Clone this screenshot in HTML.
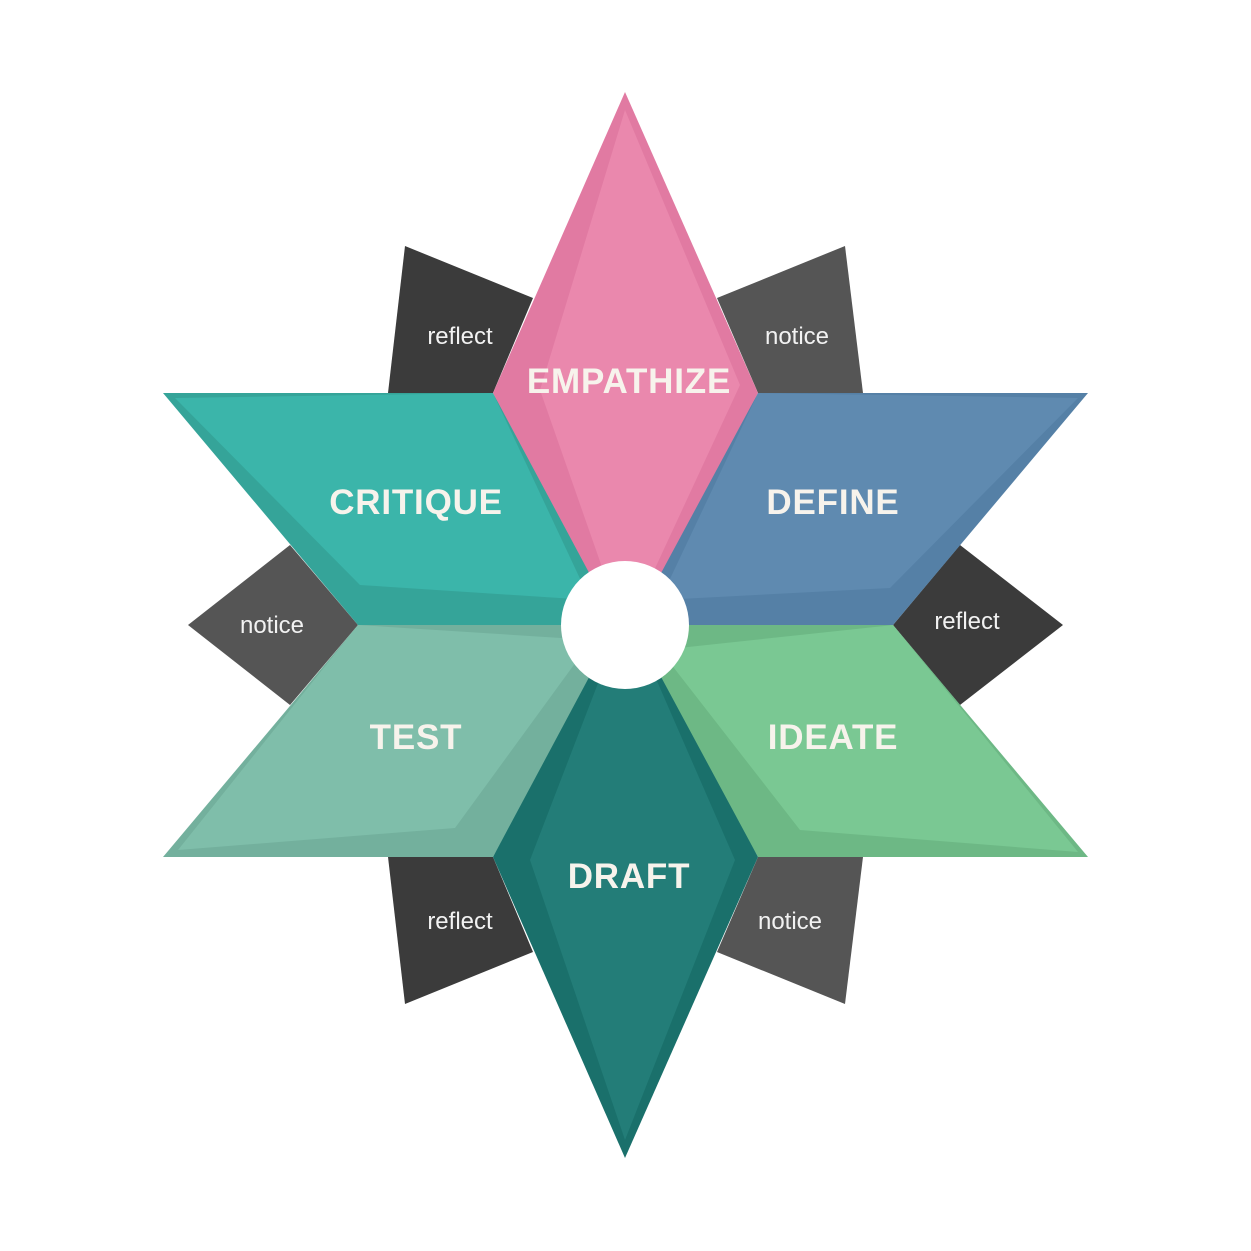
<!DOCTYPE html>
<html><head><style>
html,body{margin:0;padding:0;background:#fff;}
svg{display:block;}
.b{font-family:"Liberation Sans",sans-serif;font-weight:bold;font-size:35px;fill:#f7f3ec;text-anchor:middle;letter-spacing:0.8px;}
.s{font-family:"Liberation Sans",sans-serif;font-size:24px;fill:#f2f2f2;text-anchor:middle;}
</style></head><body>
<svg width="1251" height="1251" viewBox="0 0 1251 1251" xmlns="http://www.w3.org/2000/svg">
<rect width="1251" height="1251" fill="#fff"/>
<polygon points="405,246 533,298 493,393 388,393" fill="#3b3b3b"/>
<polygon points="845,246 717,298 758,393 863,393" fill="#555555"/>
<polygon points="188,625 290,545 358,625 290,705" fill="#555555"/>
<polygon points="1063,625 960,545 893,625 960,705" fill="#3b3b3b"/>
<polygon points="405,1004 533,952 493,857 388,857" fill="#3b3b3b"/>
<polygon points="845,1004 717,952 758,857 863,857" fill="#555555"/>
<!-- critique -->
<polygon points="163,393 493,393 625,625 358,625" fill="#35a499"/>
<polygon points="175,398 493,393 590,600 360,585" fill="#3bb5aa"/>
<!-- define -->
<polygon points="758,393 1088,393 893,625 625,625" fill="#5580a6"/>
<polygon points="758,393 1078,398 890,588 660,600" fill="#5f8ab0"/>
<!-- test -->
<polygon points="358,625 625,625 493,857 163,857" fill="#73b09d"/>
<polygon points="358,625 592,640 455,828 178,850" fill="#7fbeaa"/>
<!-- ideate -->
<polygon points="625,625 893,625 1088,857 758,857" fill="#6db885"/>
<polygon points="660,650 893,625 1078,852 800,830" fill="#7ac893"/>
<!-- empathize -->
<polygon points="625,92 758,393 625,640 493,393" fill="#e17aa2"/>
<polygon points="625,110 740,385 645,590 610,590 540,390" fill="#ea88ad"/>
<!-- draft -->
<polygon points="625,1158 493,857 625,610 758,857" fill="#1a706b"/>
<polygon points="625,1140 530,860 605,665 650,665 735,860" fill="#237d78"/>
<circle cx="625" cy="625" r="64" fill="#fff"/>
<text class="b" x="629" y="393">EMPATHIZE</text>
<text class="b" x="416" y="514">CRITIQUE</text>
<text class="b" x="833" y="514">DEFINE</text>
<text class="b" x="416" y="749">TEST</text>
<text class="b" x="833" y="749">IDEATE</text>
<text class="b" x="629" y="888">DRAFT</text>
<text class="s" x="460" y="344">reflect</text>
<text class="s" x="797" y="344">notice</text>
<text class="s" x="272" y="633">notice</text>
<text class="s" x="967" y="629">reflect</text>
<text class="s" x="460" y="929">reflect</text>
<text class="s" x="790" y="929">notice</text>
</svg>
</body></html>
